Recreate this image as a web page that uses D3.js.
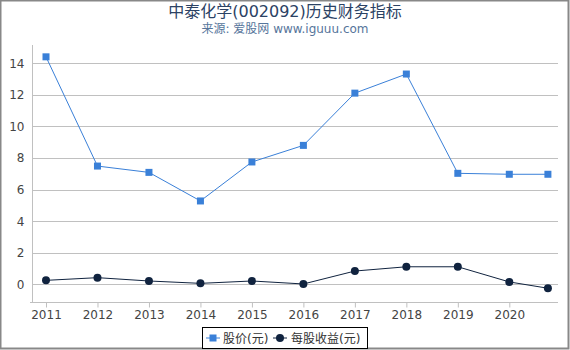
<!DOCTYPE html>
<html>
<head>
<meta charset="utf-8">
<script src="https://cdn.jsdelivr.net/npm/d3@7"></script>
<style>
  body { margin: 0; background: #fff; }
  svg { display: block; font-family: "DejaVu Sans", "Noto Sans CJK SC", sans-serif; }
</style>
</head>
<body>
<div id="chart"></div>
<script>
var svgWidth = 570;
var svgHeight = 350;

// data
var years = [2011, 2012, 2013, 2014, 2015, 2016, 2017, 2018, 2019, 2020, 2020.75];
var xTicks = [2011, 2012, 2013, 2014, 2015, 2016, 2017, 2018, 2019, 2020];
var price = [14.41, 7.49, 7.09, 5.28, 7.75, 8.80, 12.11, 13.32, 7.03, 6.97, 6.97];
var eps = [0.25, 0.42, 0.21, 0.06, 0.21, 0.02, 0.84, 1.11, 1.11, 0.15, -0.25];
var yTicks = [0, 2, 4, 6, 8, 10, 12, 14];

var priceColor = "#3a80d8";
var epsColor = "#10233f";

var svg = d3.select("#chart")
  .append("svg")
  .attr("width", svgWidth)
  .attr("height", svgHeight);

// outer frame
svg.append("rect")
  .attr("x", 0.5).attr("y", 0.5)
  .attr("width", svgWidth - 2).attr("height", svgHeight - 2)
  .attr("fill", "none")
  .attr("stroke", "#888")
  .attr("stroke-width", 2);

// titles
svg.append("text")
  .attr("x", 285).attr("y", 17)
  .attr("text-anchor", "middle")
  .attr("fill", "#2b4264")
  .style("font-size", "16px")
  .text("中泰化学(002092)历史财务指标");

svg.append("text")
  .attr("x", 285).attr("y", 33)
  .attr("text-anchor", "middle")
  .attr("fill", "#56759b")
  .style("font-size", "12px")
  .text("来源: 爱股网 www.iguuu.com");

var plotLeft = 33, plotRight = 558, plotTop = 45, plotBottom = 303;

var x = d3.scaleLinear()
  .domain([2011, 2020])
  .range([46, 509.3]);

var y = d3.scaleLinear()
  .domain([0, 14])
  .range([284.3, 63.3]);

// gridlines
svg.append("g")
  .selectAll("line")
  .data(yTicks)
  .enter()
  .append("line")
  .attr("x1", plotLeft).attr("x2", plotRight)
  .attr("y1", d => Math.round(y(d)) + 0.5)
  .attr("y2", d => Math.round(y(d)) + 0.5)
  .attr("stroke", "#c0c0c0")
  .attr("stroke-width", 1);

// y axis
var leftAxis = d3.axisLeft(y).tickValues(yTicks).tickSize(0).tickPadding(8);
var yAxis = svg.append("g")
  .attr("transform", `translate(${plotLeft - 0.5}, 0)`)
  .call(leftAxis);
yAxis.select(".domain").remove();
yAxis.append("line")
  .attr("x1", 0).attr("x2", 0)
  .attr("y1", plotTop).attr("y2", plotBottom)
  .attr("stroke", "#c0c0c0");
yAxis.selectAll("text")
  .attr("fill", "#444")
  .style("font-size", "12px")
  .style("font-family", "DejaVu Sans, sans-serif");

// x axis
var bottomAxis = d3.axisBottom(x).tickValues(xTicks).tickFormat(d3.format("d")).tickSize(5).tickPadding(3);
var xAxis = svg.append("g")
  .attr("transform", `translate(0, ${plotBottom - 0.5})`)
  .call(bottomAxis);
xAxis.select(".domain").remove();
xAxis.append("line")
  .attr("x1", plotLeft - 3).attr("x2", plotRight)
  .attr("y1", 0).attr("y2", 0)
  .attr("stroke", "#c0c0c0");
xAxis.selectAll(".tick line").attr("stroke", "#c0c0c0");
xAxis.selectAll("text")
  .attr("fill", "#444")
  .style("font-size", "12px")
  .style("font-family", "DejaVu Sans, sans-serif");

var line = d3.line()
  .x((d, i) => x(years[i]))
  .y(d => y(d));

// price series
svg.append("path")
  .datum(price)
  .attr("d", line)
  .attr("fill", "none")
  .attr("stroke", priceColor)
  .attr("stroke-width", 1);

svg.append("g")
  .selectAll("rect")
  .data(price)
  .enter()
  .append("rect")
  .attr("x", (d, i) => x(years[i]) - 3.5)
  .attr("y", d => y(d) - 3.5)
  .attr("width", 7)
  .attr("height", 7)
  .attr("fill", priceColor);

// eps series
svg.append("path")
  .datum(eps)
  .attr("d", line)
  .attr("fill", "none")
  .attr("stroke", epsColor)
  .attr("stroke-width", 1);

svg.append("g")
  .selectAll("circle")
  .data(eps)
  .enter()
  .append("circle")
  .attr("cx", (d, i) => x(years[i]))
  .attr("cy", d => y(d))
  .attr("r", 4)
  .attr("fill", epsColor);

// legend
var legend = svg.append("g");
legend.append("rect")
  .attr("x", 202.5).attr("y", 327.5)
  .attr("width", 165).attr("height", 21)
  .attr("fill", "#fff")
  .attr("stroke", "#000");

legend.append("line")
  .attr("x1", 206).attr("x2", 220).attr("y1", 338).attr("y2", 338)
  .attr("stroke", priceColor);
legend.append("rect")
  .attr("x", 209.5).attr("y", 334.5).attr("width", 7).attr("height", 7)
  .attr("fill", priceColor);
legend.append("text")
  .attr("x", 223).attr("y", 342.5)
  .attr("fill", "#333")
  .style("font-size", "12px")
  .text("股价(元)");

legend.append("line")
  .attr("x1", 273).attr("x2", 287).attr("y1", 338).attr("y2", 338)
  .attr("stroke", epsColor);
legend.append("circle")
  .attr("cx", 280).attr("cy", 338).attr("r", 4)
  .attr("fill", epsColor);
legend.append("text")
  .attr("x", 291).attr("y", 342.5)
  .attr("fill", "#333")
  .style("font-size", "12px")
  .text("每股收益(元)");
</script>
</body>
</html>
